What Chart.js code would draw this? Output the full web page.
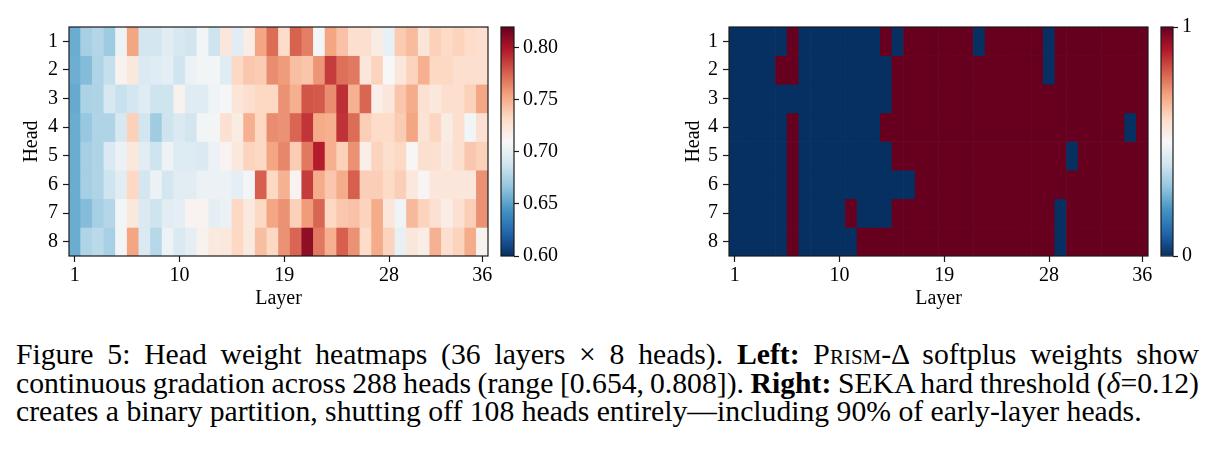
<!DOCTYPE html>
<html>
<head>
<meta charset="utf-8">
<script src="https://cdn.jsdelivr.net/npm/chart.js@4.4.1/dist/chart.umd.min.js"></script>
<style>
  html, body { margin: 0; padding: 0; background: #fff; }
  #page { position: relative; width: 1221px; height: 452px; overflow: hidden; }
  canvas { position: absolute; top: 0; }
  #caption { position: absolute; left: 16px; top: 339.8px; width: 1183px;
    font-family: 'Liberation Serif', 'Times New Roman', serif; font-size: 29.7px; line-height: 28.7px; color: #000; }
  .just { text-align: justify; text-align-last: justify; word-spacing: -5px; }
  .sc { font-variant: small-caps; }
</style>
</head>
<body>
<div id="page">
  <canvas id="prismMap" width="500" height="320" style="left:0px"></canvas>
  <canvas id="prismBar" width="85" height="320" style="left:495px"></canvas>
  <canvas id="sekaMap" width="520" height="320" style="left:640px"></canvas>
  <canvas id="sekaBar" width="66" height="320" style="left:1155px"></canvas>
  <div id="caption">
    <div class="just">Figure 5: Head weight heatmaps (36 layers × 8 heads). <b>Left:</b> P<span class="sc">rism</span>-Δ softplus weights show</div>
    <div class="just">continuous gradation across 288 heads (range [0.654,&#8201;0.808]). <b>Right:</b> SEKA hard threshold (<i>δ</i>=0.12)</div>
    <div>creates a binary partition, shutting off 108 heads entirely—including 90% of early-layer heads.</div>
  </div>
</div>
<script>
// layers (x) and heads (y)
const layers = ['1','2','3','4','5','6','7','8','9','10','11','12','13','14','15','16','17','18',
                '19','20','21','22','23','24','25','26','27','28','29','30','31','32','33','34','35','36'];
const layerTicks = ['1', '10', '19', '28', '36'];
const heads = [1, 2, 3, 4, 5, 6, 7, 8];

// PRISM-Delta softplus weights, one array per head
const prismHead1 = [0.655,0.673,0.678,0.670,0.704,0.754,0.690,0.690,0.697,0.692,0.689,0.707,0.687,0.723,0.698,0.718,0.754,0.772,
                    0.731,0.775,0.766,0.708,0.754,0.742,0.729,0.729,0.719,0.701,0.739,0.745,0.724,0.736,0.732,0.735,0.731,0.729];
const prismHead2 = [0.656,0.662,0.676,0.684,0.714,0.722,0.693,0.696,0.699,0.688,0.703,0.707,0.707,0.696,0.733,0.740,0.738,0.762,
                    0.757,0.744,0.741,0.759,0.787,0.771,0.768,0.723,0.735,0.710,0.723,0.735,0.750,0.733,0.733,0.729,0.729,0.729];
const prismHead3 = [0.654,0.675,0.676,0.692,0.685,0.690,0.696,0.687,0.687,0.714,0.696,0.696,0.705,0.709,0.724,0.729,0.733,0.733,
                    0.760,0.750,0.779,0.778,0.762,0.791,0.749,0.774,0.717,0.723,0.741,0.751,0.727,0.722,0.729,0.729,0.736,0.753];
const prismHead4 = [0.655,0.668,0.676,0.676,0.692,0.736,0.689,0.671,0.687,0.694,0.689,0.707,0.707,0.727,0.719,0.750,0.733,0.762,
                    0.760,0.774,0.789,0.752,0.750,0.790,0.772,0.737,0.731,0.731,0.738,0.754,0.725,0.734,0.719,0.729,0.707,0.727];
const prismHead5 = [0.655,0.673,0.676,0.693,0.703,0.722,0.697,0.687,0.704,0.695,0.695,0.694,0.703,0.713,0.722,0.735,0.733,0.754,
                    0.764,0.738,0.768,0.797,0.750,0.736,0.760,0.717,0.735,0.729,0.733,0.711,0.729,0.727,0.721,0.729,0.740,0.736];
const prismHead6 = [0.655,0.673,0.676,0.687,0.697,0.733,0.690,0.703,0.690,0.697,0.697,0.703,0.703,0.703,0.699,0.707,0.776,0.733,
                    0.749,0.713,0.787,0.751,0.740,0.751,0.776,0.737,0.737,0.732,0.737,0.722,0.712,0.723,0.723,0.723,0.723,0.760];
const prismHead7 = [0.655,0.662,0.673,0.678,0.707,0.722,0.693,0.687,0.697,0.699,0.713,0.713,0.699,0.703,0.733,0.721,0.733,0.754,
                    0.760,0.736,0.757,0.774,0.733,0.740,0.742,0.735,0.751,0.723,0.706,0.746,0.735,0.727,0.718,0.727,0.737,0.760];
const prismHead8 = [0.655,0.676,0.680,0.674,0.707,0.754,0.693,0.679,0.704,0.694,0.699,0.714,0.721,0.722,0.733,0.721,0.744,0.733,
                    0.760,0.774,0.808,0.768,0.750,0.776,0.760,0.731,0.751,0.735,0.702,0.723,0.718,0.749,0.729,0.735,0.751,0.714];

// SEKA hard threshold mask (1 = kept, 0 = shut off)
const sekaHead1 = [0,0,0,0,0,1,0,0,0,0,0,0,0,1,0,1,1,1,1,1,1,0,1,1,1,1,1,0,1,1,1,1,1,1,1,1];
const sekaHead2 = [0,0,0,0,1,1,0,0,0,0,0,0,0,0,1,1,1,1,1,1,1,1,1,1,1,1,1,0,1,1,1,1,1,1,1,1];
const sekaHead3 = [0,0,0,0,0,0,0,0,0,0,0,0,0,0,1,1,1,1,1,1,1,1,1,1,1,1,1,1,1,1,1,1,1,1,1,1];
const sekaHead4 = [0,0,0,0,0,1,0,0,0,0,0,0,0,1,1,1,1,1,1,1,1,1,1,1,1,1,1,1,1,1,1,1,1,1,0,1];
const sekaHead5 = [0,0,0,0,0,1,0,0,0,0,0,0,0,0,1,1,1,1,1,1,1,1,1,1,1,1,1,1,1,0,1,1,1,1,1,1];
const sekaHead6 = [0,0,0,0,0,1,0,0,0,0,0,0,0,0,0,0,1,1,1,1,1,1,1,1,1,1,1,1,1,1,1,1,1,1,1,1];
const sekaHead7 = [0,0,0,0,0,1,0,0,0,0,1,0,0,0,1,1,1,1,1,1,1,1,1,1,1,1,1,1,0,1,1,1,1,1,1,1];
const sekaHead8 = [0,0,0,0,0,1,0,0,0,0,0,1,1,1,1,1,1,1,1,1,1,1,1,1,1,1,1,1,0,1,1,1,1,1,1,1];

// colour bar ranges and ticks
const prismRange = [0.60, 0.82];
const prismBarTicks = [0.60, 0.65, 0.70, 0.75, 0.80];
const sekaRange = [0, 1];
const sekaBarTicks = [0, 1];

const prismRows = [prismHead1, prismHead2, prismHead3, prismHead4, prismHead5, prismHead6, prismHead7, prismHead8];
const sekaRows = [sekaHead1, sekaHead2, sekaHead3, sekaHead4, sekaHead5, sekaHead6, sekaHead7, sekaHead8];

// RdBu_r anchor colours (low -> high)
const rdbu = ['#053061', '#2166ac', '#4393c3', '#92c5de', '#d1e5f0', '#f7f7f7',
              '#fddbc7', '#f4a582', '#d6604d', '#b2182b', '#67001f'];
const rdbuRgb = rdbu.map(h => {
    const n = parseInt(h.slice(1), 16);
    return [n >> 16, (n >> 8) & 255, n & 255];
});

function rdbuColor(t) {
    t = Math.min(1, Math.max(0, t));
    const x = t * (rdbuRgb.length - 1);
    const i = Math.min(Math.floor(x), rdbuRgb.length - 2);
    const f = x - i;
    const a = rdbuRgb[i], b = rdbuRgb[i + 1];
    const c = [0, 1, 2].map(k => Math.round(a[k] + (b[k] - a[k]) * f));
    return `rgb(${c[0]}, ${c[1]}, ${c[2]})`;
}

const axisColor = '#1a1a1a';
const labelFont = { family: "'Liberation Serif', 'Times New Roman', serif", size: 20 };

// draws the black frame round a plot area
const framePlugin = {
    id: 'frame',
    afterDatasetsDraw(chart) {
        const { ctx, chartArea: a } = chart;
        ctx.save();
        ctx.strokeStyle = axisColor;
        ctx.lineWidth = 1.2;
        ctx.strokeRect(a.left, a.top, a.right - a.left, a.bottom - a.top);
        ctx.restore();
    }
};

function drawHeatmap(canvasId, rows, range, yAxisWidth, headTitlePad) {
    const datasets = rows.map((row, i) => ({
        data: row.map(() => [heads[i] - 0.5, heads[i] + 0.5]),
        backgroundColor: row.map(v => rdbuColor((v - range[0]) / (range[1] - range[0]))),
        borderWidth: 0,
        barPercentage: 1,
        categoryPercentage: 1,
        grouped: false
    }));

    return new Chart(document.getElementById(canvasId), {
        type: 'bar',
        data: { labels: layers, datasets: datasets },
        options: {
            responsive: false,
            animation: false,
            events: [],
            layout: { padding: { top: 27, right: 12, left: 0, bottom: 0 } },
            plugins: { legend: { display: false }, tooltip: { enabled: false } },
            scales: {
                x: {
                    grid: { offset: false, drawOnChartArea: false, tickLength: 6, tickWidth: 1.2, tickColor: axisColor },
                    border: { display: false },
                    ticks: { autoSkip: false, maxRotation: 0, padding: 2, color: '#000', font: labelFont },
                    afterBuildTicks: axis => {
                        axis.ticks = axis.ticks.filter(t => layerTicks.includes(layers[t.value]));
                    },
                    afterFit: axis => { axis.height = 64; },
                    title: { display: true, text: 'Layer', color: '#000', font: labelFont, padding: { top: 0, bottom: 9 } }
                },
                y: {
                    type: 'linear',
                    min: 0.5,
                    max: 8.5,
                    reverse: true,
                    grid: { drawOnChartArea: false, tickLength: 6, tickWidth: 1.2, tickColor: axisColor },
                    border: { display: false },
                    ticks: { padding: 5, color: '#000', font: labelFont },
                    afterBuildTicks: axis => { axis.ticks = heads.map(h => ({ value: h })); },
                    afterFit: axis => { axis.width = yAxisWidth; },
                    title: { display: true, text: 'Head', color: '#000', font: labelFont, padding: { top: headTitlePad, bottom: 0 } }
                }
            }
        },
        plugins: [framePlugin]
    });
}

function barGradient(chart) {
    const area = chart.chartArea;
    if (!area) return rdbu[5];
    const g = chart.ctx.createLinearGradient(0, area.bottom, 0, area.top);
    rdbu.forEach((c, i) => g.addColorStop(i / (rdbu.length - 1), c));
    return g;
}

function drawColorbar(canvasId, range, tickValues, decimals, axisWidth) {
    return new Chart(document.getElementById(canvasId), {
        type: 'bar',
        data: {
            labels: [''],
            datasets: [{
                data: [range],
                backgroundColor: ctx => barGradient(ctx.chart),
                borderWidth: 0,
                barPercentage: 1,
                categoryPercentage: 1
            }]
        },
        options: {
            responsive: false,
            animation: false,
            events: [],
            layout: { padding: { top: 27, right: 0, left: 6, bottom: 64 } },
            plugins: { legend: { display: false }, tooltip: { enabled: false } },
            scales: {
                x: { display: false },
                y: {
                    position: 'right',
                    min: range[0],
                    max: range[1],
                    grid: { drawOnChartArea: false, tickLength: 5, tickWidth: 1.2, tickColor: axisColor },
                    border: { display: false },
                    ticks: { padding: 4, color: '#000', font: labelFont, callback: v => Number(v).toFixed(decimals) },
                    afterBuildTicks: axis => { axis.ticks = tickValues.map(v => ({ value: v })); },
                    afterFit: axis => { axis.width = axisWidth; }
                }
            }
        },
        plugins: [framePlugin]
    });
}

drawHeatmap('prismMap', prismRows, prismRange, 69, 19.6);
drawColorbar('prismBar', prismRange, prismBarTicks, 2, 66);
drawHeatmap('sekaMap', sekaRows, sekaRange, 89, 42);
drawColorbar('sekaBar', sekaRange, sekaBarTicks, 0, 48);
</script>
</body>
</html>
